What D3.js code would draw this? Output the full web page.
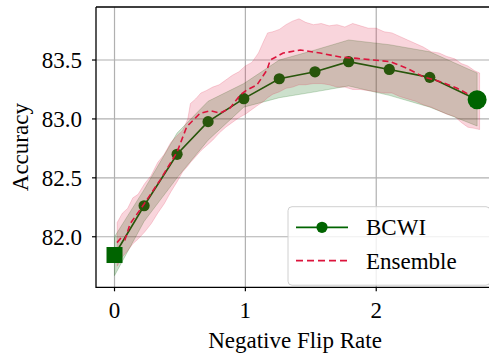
<!DOCTYPE html>
<html>
<head>
<meta charset="utf-8">
<script src="https://cdn.jsdelivr.net/npm/d3@7"></script>
<style>
  body { margin: 0; background: #fff; }
  svg { display: block; }
  text { font-family: "Liberation Serif", "DejaVu Serif", serif; fill: #000; }
</style>
</head>
<body>
<svg id="chart" width="489" height="353"></svg>
<script>
// BCWI 曲线
const bcwiX = [0, 0.226, 0.478, 0.715, 0.988, 1.259, 1.532, 1.789, 2.100, 2.409, 2.771];
const bcwiY = [81.845, 82.263, 82.700, 82.977, 83.172, 83.341, 83.400, 83.486, 83.420, 83.353, 83.163];
const bcwiHi = [82.00, 82.40, 82.88, 83.15, 83.30, 83.50, 83.585, 83.67, 83.63, 83.57, 83.39];
const bcwiLo = [81.67, 82.13, 82.50, 82.82, 83.10, 83.18, 83.23, 83.28, 83.20, 83.10, 82.94];

// Ensemble 均值
const ensX = [0.019, 0.05, 0.08, 0.119, 0.17, 0.226, 0.348, 0.478, 0.552, 0.654, 0.731, 0.807, 0.884, 0.960, 1.011, 1.088, 1.165, 1.190, 1.289, 1.419, 1.572, 1.725, 1.853, 1.978, 2.108, 2.236, 2.360, 2.490, 2.618, 2.743, 2.766];
const ensY = [81.950, 81.99, 81.975, 82.110, 82.19, 82.278, 82.481, 82.719, 82.934, 83.048, 83.070, 83.050, 83.093, 83.203, 83.245, 83.288, 83.415, 83.500, 83.559, 83.585, 83.559, 83.525, 83.514, 83.500, 83.486, 83.430, 83.358, 83.316, 83.260, 83.188, 83.173];

// Ensemble 范围带
const bandX = [0.02, 0.06, 0.10, 0.14, 0.18, 0.23, 0.28, 0.33, 0.38, 0.43, 0.48, 0.52, 0.56, 0.58, 0.62, 0.66, 0.70, 0.75, 0.80, 0.85, 0.90, 0.95, 1.00, 1.05, 1.10, 1.14, 1.17, 1.21, 1.26, 1.31, 1.36, 1.41, 1.46, 1.52, 1.58, 1.64, 1.70, 1.76, 1.82, 1.88, 1.94, 2.00, 2.06, 2.12, 2.18, 2.24, 2.30, 2.36, 2.42, 2.48, 2.54, 2.60, 2.65, 2.70, 2.75, 2.79];
const bandHi = [82.12, 82.20, 82.24, 82.33, 82.36, 82.45, 82.52, 82.63, 82.70, 82.80, 82.86, 82.90, 83.00, 83.13, 83.17, 83.22, 83.24, 83.27, 83.29, 83.33, 83.37, 83.40, 83.45, 83.48, 83.56, 83.66, 83.73, 83.74, 83.76, 83.80, 83.83, 83.85, 83.82, 83.80, 83.81, 83.79, 83.80, 83.78, 83.81, 83.79, 83.77, 83.77, 83.74, 83.73, 83.70, 83.67, 83.64, 83.61, 83.57, 83.56, 83.53, 83.51, 83.47, 83.45, 83.41, 83.39];
const bandLo = [81.75, 81.83, 81.88, 81.94, 81.98, 82.04, 82.11, 82.20, 82.28, 82.38, 82.47, 82.55, 82.60, 82.63, 82.68, 82.73, 82.77, 82.82, 82.88, 82.93, 82.97, 83.01, 83.04, 83.08, 83.12, 83.15, 83.18, 83.21, 83.23, 83.26, 83.27, 83.29, 83.29, 83.30, 83.30, 83.29, 83.27, 83.27, 83.25, 83.25, 83.24, 83.23, 83.22, 83.22, 83.19, 83.17, 83.15, 83.12, 83.10, 83.07, 83.04, 83.02, 82.97, 82.93, 82.92, 82.91];

const xTicks = [0, 1, 2];
const yTicks = [82.0, 82.5, 83.0, 83.5];
const legendLabels = ['BCWI', 'Ensemble'];

const GREEN = '#006400';
const RED = '#dc143c';
const FONT = '23px';

const svg = d3.select('#chart');

// 绘图区（右侧坐标轴略超出画布）
const plot = { left: 96, right: 494, top: 7, bottom: 287.3 };
const x = d3.scaleLinear().domain([-0.1415, 2.90]).range([plot.left, plot.right]);
const y = d3.scaleLinear().domain([81.571, 83.95]).range([plot.bottom, plot.top]);

// 网格线
const grid = svg.append('g').attr('class', 'grid');
grid.selectAll('.gx').data(xTicks).enter().append('line')
  .attr('x1', d => x(d)).attr('x2', d => x(d))
  .attr('y1', plot.top).attr('y2', plot.bottom)
  .attr('stroke', '#b0b0b0').attr('stroke-width', 1.2);
grid.selectAll('.gy').data(yTicks).enter().append('line')
  .attr('x1', plot.left).attr('x2', plot.right)
  .attr('y1', d => y(d)).attr('y2', d => y(d))
  .attr('stroke', '#b0b0b0').attr('stroke-width', 1.2);

// BCWI 线和标记
const bcwi = bcwiX.map((v, i) => ({ x: v, y: bcwiY[i], hi: bcwiHi[i], lo: bcwiLo[i] }));
const line = d3.line().x(d => x(d.x)).y(d => y(d.y));

svg.append('path')
  .datum(bcwi)
  .attr('d', line)
  .attr('fill', 'none')
  .attr('stroke', GREEN)
  .attr('stroke-width', 1.6);

svg.append('g').selectAll('circle')
  .data(bcwi.slice(1, -1))
  .enter().append('circle')
  .attr('cx', d => x(d.x)).attr('cy', d => y(d.y))
  .attr('r', 5.6)
  .attr('fill', GREEN);

// 范围带（画在线上面，半透明）
const area = d3.area().x(d => x(d.x)).y0(d => y(d.lo)).y1(d => y(d.hi));
svg.append('path')
  .datum(bcwi)
  .attr('d', area)
  .attr('fill', GREEN).attr('fill-opacity', 0.2)
  .attr('stroke', GREEN).attr('stroke-opacity', 0.2).attr('stroke-width', 1);

const band = bandX.map((v, i) => ({ x: v, hi: bandHi[i], lo: bandLo[i] }));
svg.append('path')
  .datum(band)
  .attr('d', area)
  .attr('fill', RED).attr('fill-opacity', 0.18)
  .attr('stroke', RED).attr('stroke-opacity', 0.18).attr('stroke-width', 1);

// Ensemble 虚线
const ens = ensX.map((v, i) => ({ x: v, y: ensY[i] }));
svg.append('path')
  .datum(ens)
  .attr('d', line)
  .attr('fill', 'none')
  .attr('stroke', RED)
  .attr('stroke-width', 1.6)
  .attr('stroke-dasharray', '6,3.5');

// 起点方块与终点大圆
const first = bcwi[0], last = bcwi[bcwi.length - 1];
svg.append('rect')
  .attr('x', x(first.x) - 8).attr('y', y(first.y) - 8)
  .attr('width', 16).attr('height', 16)
  .attr('fill', GREEN);
svg.append('circle')
  .attr('cx', x(last.x)).attr('cy', y(last.y))
  .attr('r', 9.5)
  .attr('fill', GREEN);

// 坐标轴
svg.append('path')
  .attr('d', `M${plot.left},${plot.top}H${plot.right}M${plot.left},${plot.top}V${plot.bottom}H${plot.right}`)
  .attr('fill', 'none').attr('stroke', '#000').attr('stroke-width', 1.3);

const xAxis = svg.append('g');
xAxis.selectAll('line').data(xTicks).enter().append('line')
  .attr('x1', d => x(d)).attr('x2', d => x(d))
  .attr('y1', plot.bottom).attr('y2', plot.bottom + 4)
  .attr('stroke', '#000').attr('stroke-width', 1.2);
xAxis.selectAll('text').data(xTicks).enter().append('text')
  .attr('x', d => x(d)).attr('y', 318)
  .attr('text-anchor', 'middle')
  .style('font-size', FONT)
  .text(d => d);

const yAxis = svg.append('g');
yAxis.selectAll('line').data(yTicks).enter().append('line')
  .attr('x1', plot.left - 4).attr('x2', plot.left)
  .attr('y1', d => y(d)).attr('y2', d => y(d))
  .attr('stroke', '#000').attr('stroke-width', 1.2);
yAxis.selectAll('text').data(yTicks).enter().append('text')
  .attr('x', 82).attr('y', d => y(d))
  .attr('dy', '0.35em')
  .attr('text-anchor', 'end')
  .style('font-size', FONT)
  .text(d => d3.format('.1f')(d));

// 轴标题
svg.append('text')
  .attr('x', (plot.left + plot.right) / 2).attr('y', 348)
  .attr('text-anchor', 'middle')
  .style('font-size', FONT)
  .text('Negative Flip Rate');

svg.append('text')
  .attr('transform', `translate(28,${(plot.top + plot.bottom) / 2}) rotate(-90)`)
  .attr('text-anchor', 'middle')
  .style('font-size', FONT)
  .text('Accuracy');

// 图例
const legend = svg.append('g');
legend.append('rect')
  .attr('x', 288).attr('y', 206.7)
  .attr('width', 202).attr('height', 78.5)
  .attr('rx', 4)
  .attr('fill', '#fff').attr('fill-opacity', 0.8)
  .attr('stroke', '#d0d0d0').attr('stroke-width', 1);

legend.append('line')
  .attr('x1', 296).attr('x2', 348).attr('y1', 227.3).attr('y2', 227.3)
  .attr('stroke', GREEN).attr('stroke-width', 1.8);
legend.append('circle')
  .attr('cx', 322).attr('cy', 227.3).attr('r', 5.6)
  .attr('fill', GREEN);
legend.append('line')
  .attr('x1', 296).attr('x2', 348).attr('y1', 260.7).attr('y2', 260.7)
  .attr('stroke', RED).attr('stroke-width', 1.8)
  .attr('stroke-dasharray', '7,4');

legend.selectAll('text').data(legendLabels).enter().append('text')
  .attr('x', 366)
  .attr('y', (d, i) => 235 + i * 33.5)
  .style('font-size', FONT)
  .text(d => d);
</script>
</body>
</html>
